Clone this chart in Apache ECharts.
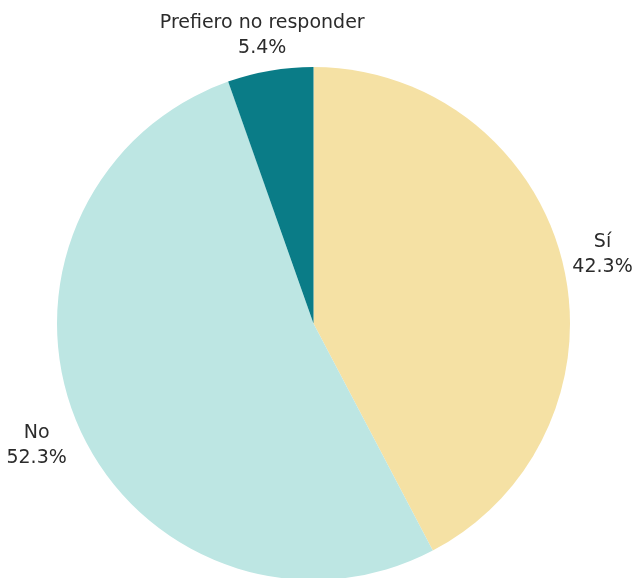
<!DOCTYPE html>
<html><head><meta charset="utf-8">
<script src="https://cdn.jsdelivr.net/npm/echarts@6/dist/echarts.min.js"></script>
<style>html,body{margin:0;padding:0;background:#fff}#c{width:634px;height:578px}</style>
</head><body><div id="c"></div>
<script>
const categories = ['Sí', 'No', 'Prefiero no responder'];
const values = [42.3, 52.3, 5.4];
const colors = ['#F5E1A4', '#BDE6E3', '#0A7C87'];

const CX = 313.5, CY = 323.5, R = 256.5, GAP = 10;
const NUDGE = [[1, 0], [-5, 7], [11, -4]];
const total = values.reduce((a, b) => a + b, 0);
const mids = [];
let acc = 0;
values.forEach(v => { mids.push((acc + v / 2) / total * 2 * Math.PI); acc += v; });

const chart = echarts.init(document.getElementById('c'), null, {renderer: 'canvas'});
chart.setOption({
  animation: false,
  series: [{
    type: 'pie',
    center: [CX, CY],
    radius: R,
    startAngle: 90,
    clockwise: true,
    avoidLabelOverlap: false,
    data: categories.map((n, i) => ({name: n, value: values[i], itemStyle: {color: colors[i]}})),
    label: {
      show: true,
      position: 'outside',
      overflow: 'none',
      alignTo: 'none',
      formatter: p => '{a|' + p.name + '}\n{a|' + p.value.toFixed(1) + '%}',
      rich: {a: {align: 'center', fontFamily: 'DejaVu Sans', fontSize: 19, color: '#2b2b2b', lineHeight: 25}}
    },
    labelLine: {show: false},
    labelLayout: function (p) {
      const i = p.dataIndex;
      const th = mids[i];
      const s = Math.sin(th), c = Math.cos(th);
      const ax = CX + (R + GAP) * s, ay = CY - (R + GAP) * c;
      const w = p.labelRect.width, h = p.labelRect.height;
      return {x: ax + w / 2 * s + NUDGE[i][0], y: ay - h / 2 * c + NUDGE[i][1], align: 'center', verticalAlign: 'middle'};
    }
  }]
});
</script></body></html>
